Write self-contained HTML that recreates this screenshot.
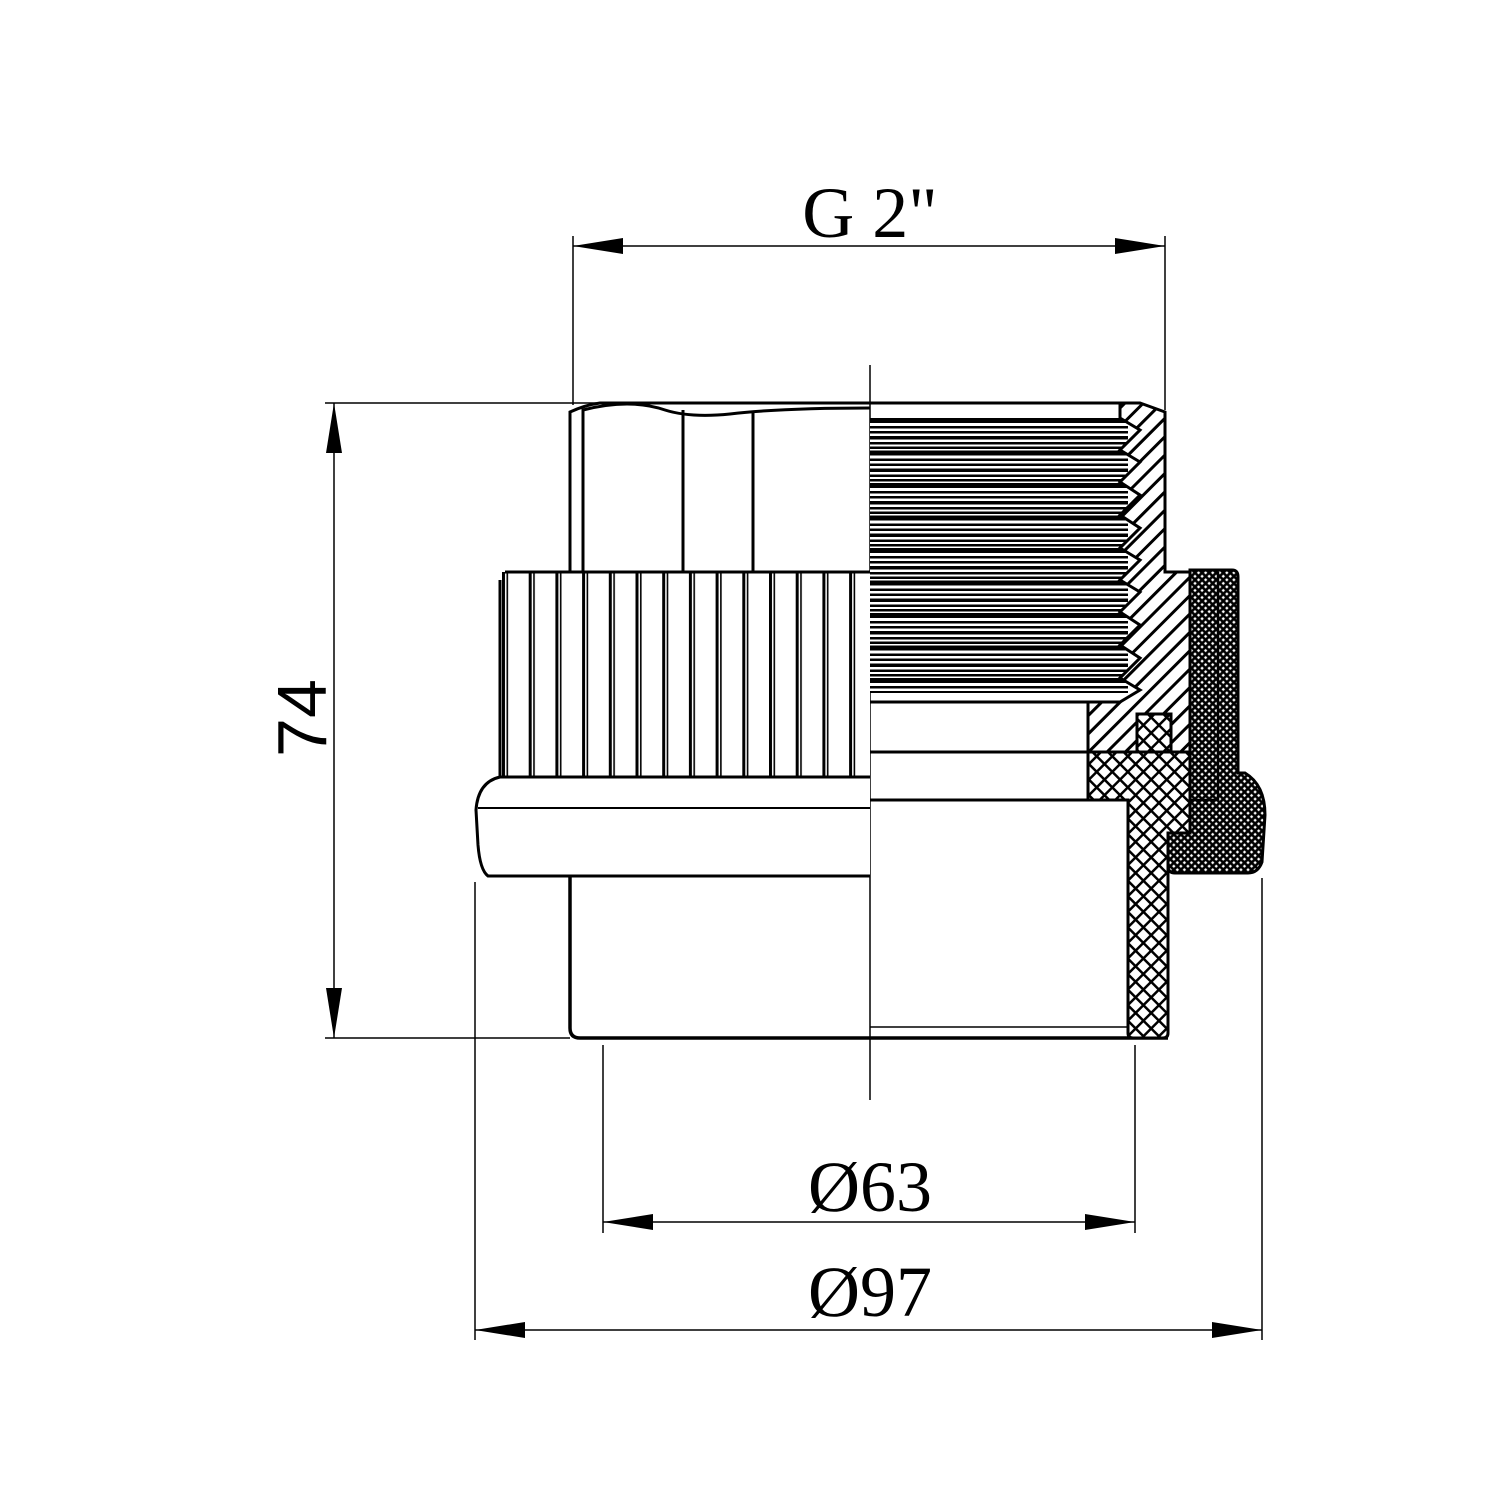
<!DOCTYPE html>
<html><head><meta charset="utf-8"><style>html,body{margin:0;padding:0;background:#fff}svg{display:block}</style></head>
<body>
<svg width="1500" height="1500" viewBox="0 0 1500 1500" xmlns="http://www.w3.org/2000/svg">
<defs>
<pattern id="diag" patternUnits="userSpaceOnUse" width="13" height="13" patternTransform="rotate(-45)">
<rect width="13" height="13" fill="#fff"/><rect width="13" height="3" fill="#000"/></pattern>
<pattern id="cross" patternUnits="userSpaceOnUse" width="11" height="11" patternTransform="rotate(45)">
<rect width="11" height="11" fill="#fff"/><rect width="11" height="2.5" fill="#000"/><rect width="2.5" height="11" fill="#000"/></pattern>
<pattern id="dark" patternUnits="userSpaceOnUse" width="5" height="5" patternTransform="rotate(45)">
<rect width="5" height="5" fill="#000"/><rect x="1.3" y="1.3" width="2.4" height="2.4" fill="#fff"/></pattern>
<pattern id="thr" patternUnits="userSpaceOnUse" x="0" y="418" width="300" height="32.5">
<rect width="300" height="32.5" fill="#fff"/>
<rect y="0" width="300" height="5" fill="#000"/>
<rect y="8" width="300" height="2.5" fill="#000"/>
<rect y="13" width="300" height="2.5" fill="#000"/>
<rect y="18" width="300" height="3.5" fill="#000"/>
<rect y="24" width="300" height="2.5" fill="#000"/>
<rect y="28.5" width="300" height="2.5" fill="#000"/>
</pattern>
<pattern id="knurl" patternUnits="userSpaceOnUse" x="502" y="0" width="26.7" height="100">
<rect width="26.7" height="100" fill="#fff"/>
<rect x="0" width="3" height="100" fill="#000"/>
<rect x="4.5" width="1.6" height="100" fill="#000"/>
</pattern>
</defs>

<g stroke="#000" stroke-width="1.5" fill="none">
<line x1="573" y1="236" x2="573" y2="405"/>
<line x1="1165" y1="236" x2="1165" y2="410"/>
<line x1="573" y1="246" x2="1165" y2="246"/>
<line x1="325" y1="403" x2="600" y2="403"/>
<line x1="325" y1="1038" x2="570" y2="1038"/>
<line x1="334" y1="403" x2="334" y2="1038"/>
<line x1="603" y1="1045" x2="603" y2="1233"/>
<line x1="1135" y1="1045" x2="1135" y2="1233"/>
<line x1="603" y1="1222" x2="1135" y2="1222"/>
<line x1="475" y1="882" x2="475" y2="1340"/>
<line x1="1262" y1="878" x2="1262" y2="1340"/>
<line x1="475" y1="1330" x2="1262" y2="1330"/>
<line x1="870" y1="365" x2="870" y2="1100"/>
</g>
<g fill="#000">
<polygon points="573,246 623,238 623,254"/>
<polygon points="1165,246 1115,238 1115,254"/>
<polygon points="334,403 326,453 342,453"/>
<polygon points="334,1038 326,988 342,988"/>
<polygon points="603,1222 653,1214 653,1230"/>
<polygon points="1135,1222 1085,1214 1085,1230"/>
<polygon points="475,1330 525,1322 525,1338"/>
<polygon points="1262,1330 1212,1322 1212,1338"/>
</g>

<g font-family="Liberation Serif, serif" font-size="72" text-anchor="middle" fill="#000">
<text x="870" y="237">G 2"</text>
<text x="870" y="1211">Ø63</text>
<text x="870" y="1316">Ø97</text>
</g>
<text x="0" y="0" font-family="Liberation Sans, sans-serif" font-size="70" text-anchor="middle" transform="translate(326,718) rotate(-90)">74</text>

<g stroke="#000" stroke-width="3" fill="none">
<path d="M570,572 L570,412 Q585,405 600,403 L870,403"/>
<path d="M583,572 L583,410 Q630,398 665,410 Q690,418 730,414 Q780,408 870,408"/>
<line x1="683" y1="410" x2="683" y2="572"/>
<line x1="753" y1="412" x2="753" y2="572"/>
</g>

<rect x="500" y="572" width="370" height="205" fill="url(#knurl)"/>
<path d="M505,572 L870,572 M500,580 L500,777" stroke="#000" stroke-width="3" fill="none"/>
<path d="M870,777 L500,777 Q478,782 476,810 L478,845 Q480,870 488,876 L870,876" fill="#fff" stroke="#000" stroke-width="3"/>
<line x1="478" y1="808" x2="870" y2="808" stroke="#000" stroke-width="2"/>
<path d="M570,876 L570,1028 Q570,1038 580,1038 L1168,1038" fill="none" stroke="#000" stroke-width="3.5"/>
<line x1="870" y1="1027" x2="1130" y2="1027" stroke="#000" stroke-width="1.5"/>

<rect x="870" y="418" width="258" height="275" fill="url(#thr)"/>
<line x1="868" y1="403" x2="1140" y2="403" stroke="#000" stroke-width="3"/>

<path d="M1120,403 L1140,403 L1165,412 L1165,572 L1190,572 L1190,752 L1088,752 L1088,702 L1120,702 L1140,690 L1120,678 L1140,658 L1120,645 L1140,625 L1120,612 L1140,592 L1120,580 L1140,560 L1120,548 L1140,528 L1120,515 L1140,495 L1120,482 L1140,462 L1120,450 L1140,430 L1120,418 Z" fill="url(#diag)" stroke="#000" stroke-width="3"/>
<line x1="870" y1="702" x2="1088" y2="702" stroke="#000" stroke-width="3"/>
<line x1="870" y1="752" x2="1088" y2="752" stroke="#000" stroke-width="3"/>
<line x1="870" y1="800" x2="1088" y2="800" stroke="#000" stroke-width="3"/>
<rect x="1137" y="714" width="34" height="38" fill="url(#cross)" stroke="#000" stroke-width="3"/>
<path d="M1088,752 L1190,752 L1190,833 L1168,833 L1168,1033 Q1168,1038 1163,1038 L1133,1038 Q1128,1038 1128,1033 L1128,800 L1088,800 Z" fill="url(#cross)" stroke="#000" stroke-width="3"/>
<path d="M1190,570 L1232,570 Q1238,570 1238,577 L1238,773 L1245,773 Q1265,785 1265,815 L1262,862 Q1258,873 1248,873 L1175,873 Q1168,873 1168,866 L1168,833 L1190,833 Z" fill="url(#dark)" stroke="#000" stroke-width="3"/>
<line x1="1218" y1="572" x2="1218" y2="800" stroke="#000" stroke-width="2.5"/>
<line x1="1190" y1="800" x2="1218" y2="800" stroke="#000" stroke-width="2.5"/>
</svg>
</body></html>
